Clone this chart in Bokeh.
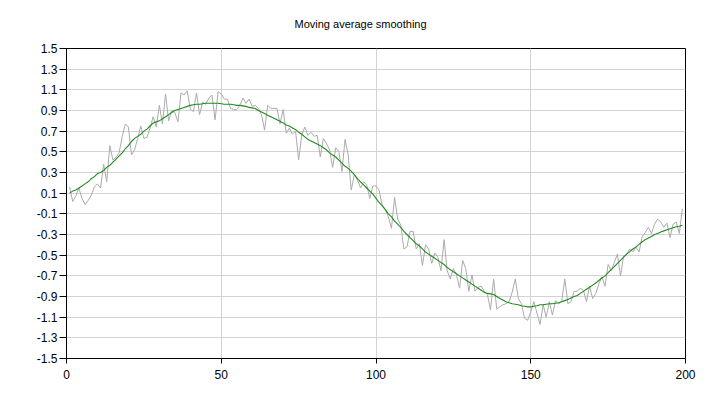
from bokeh.plotting import figure
from bokeh.models import Range1d, FixedTicker, CustomJSTickFormatter, ColumnDataSource
from bokeh.embed import file_html
from bokeh.resources import INLINE

title_text = "Moving average smoothing"

x_values = list(range(1, 200))

raw = [
    0.16, 0.02, 0.07, 0.15, 0.05, -0.01, 0.03, 0.08, 0.16, 0.19,
    0.15, 0.38, 0.21, 0.56, 0.42, 0.45, 0.49, 0.65, 0.77, 0.74,
    0.47, 0.52, 0.63, 0.75, 0.63, 0.64, 0.73, 0.84, 0.74, 0.95,
    0.77, 1.06, 0.80, 0.90, 0.88, 0.79, 1.07, 1.05, 1.09, 0.91,
    0.89, 1.07, 0.86, 0.98, 0.96, 1.02, 1.05, 0.81, 1.08, 1.06,
    1.01, 1.01, 0.92, 0.91, 0.91, 0.95, 1.02, 0.97, 1.01, 0.94,
    0.95, 0.92, 0.86, 0.71, 0.95, 0.92, 0.92, 0.92, 0.77, 0.91,
    0.68, 0.73, 0.67, 0.70, 0.42, 0.66, 0.74, 0.66, 0.69, 0.65,
    0.66, 0.45, 0.63, 0.58, 0.52, 0.35, 0.54, 0.50, 0.31, 0.62,
    0.47, 0.13, 0.28, 0.23, 0.15, 0.21, 0.18, 0.05, 0.17, 0.17,
    0.13, -0.02, -0.06, -0.13, -0.24, 0.06, -0.15, -0.21, -0.44, -0.42,
    -0.27, -0.27, -0.44, -0.39, -0.60, -0.40, -0.44, -0.58, -0.48, -0.52,
    -0.65, -0.35, -0.65, -0.73, -0.63, -0.69, -0.82, -0.55, -0.63, -0.85,
    -0.69, -0.85, -0.81, -0.80, -0.85, -0.88, -1.03, -0.73, -1.02, -1.00,
    -0.98, -0.97, -0.95, -0.86, -0.73, -0.92, -0.97, -1.11, -1.13, -1.05,
    -0.95, -1.06, -1.17, -0.98, -1.10, -0.95, -1.08, -0.94, -0.97, -0.95,
    -0.73, -0.97, -0.95, -0.85, -0.85, -0.82, -0.84, -0.95, -0.80, -0.92,
    -0.87, -0.78, -0.71, -0.80, -0.59, -0.65, -0.57, -0.49, -0.70, -0.51,
    -0.49, -0.44, -0.47, -0.42, -0.47, -0.32, -0.28, -0.23, -0.29, -0.20,
    -0.15, -0.18, -0.23, -0.19, -0.33, -0.20, -0.18, -0.29, -0.05,
]

smooth = [
    0.10, 0.12, 0.13, 0.15, 0.17, 0.19, 0.21, 0.24, 0.26, 0.29,
    0.30, 0.32, 0.35, 0.37, 0.40, 0.43, 0.46, 0.49, 0.53, 0.56,
    0.60, 0.63, 0.65, 0.67, 0.70, 0.72, 0.75, 0.78, 0.79, 0.80,
    0.82, 0.84, 0.86, 0.88, 0.90, 0.91, 0.92, 0.93, 0.94, 0.95,
    0.955, 0.96, 0.96, 0.965, 0.97, 0.97, 0.97, 0.97, 0.97, 0.965,
    0.96, 0.96, 0.96, 0.955, 0.95, 0.95, 0.945, 0.94, 0.93, 0.925,
    0.92, 0.90, 0.885, 0.87, 0.855, 0.84, 0.825, 0.81, 0.795, 0.78,
    0.76, 0.75, 0.73, 0.715, 0.69, 0.67, 0.645, 0.62, 0.605, 0.59,
    0.575, 0.56, 0.54, 0.52, 0.49, 0.47, 0.45, 0.42, 0.39, 0.36,
    0.34, 0.31, 0.28, 0.24, 0.21, 0.18, 0.15, 0.12, 0.09, 0.05,
    0.01, -0.02, -0.06, -0.10, -0.13, -0.17, -0.20, -0.23, -0.27, -0.30,
    -0.33, -0.36, -0.39, -0.41, -0.44, -0.47, -0.49, -0.51, -0.53, -0.55,
    -0.57, -0.59, -0.62, -0.64, -0.66, -0.68, -0.70, -0.72, -0.74, -0.76,
    -0.78, -0.80, -0.82, -0.84, -0.86, -0.87, -0.875, -0.88, -0.90, -0.92,
    -0.935, -0.95, -0.96, -0.97, -0.975, -0.98, -0.99, -0.995, -1.00, -1.00,
    -0.995, -0.99, -0.98, -0.98, -0.975, -0.97, -0.97, -0.965, -0.96, -0.95,
    -0.94, -0.93, -0.915, -0.90, -0.89, -0.87, -0.85, -0.83, -0.81, -0.79,
    -0.77, -0.745, -0.72, -0.70, -0.67, -0.64, -0.61, -0.58, -0.55, -0.52,
    -0.49, -0.465, -0.44, -0.42, -0.395, -0.37, -0.35, -0.335, -0.32, -0.30,
    -0.29, -0.275, -0.265, -0.255, -0.245, -0.235, -0.225, -0.22, -0.21,
]

x_ticks = [0, 50, 100, 150, 200]
y_ticks = [-1.5, -1.3, -1.1, -0.9, -0.7, -0.5, -0.3, -0.1, 0.1, 0.3, 0.5, 0.7, 0.9, 1.1, 1.3, 1.5]

src = ColumnDataSource(dict(x=x_values, raw=raw, smooth=smooth))

p = figure(width=704, height=389, output_backend="svg", toolbar_location=None,
           x_range=Range1d(0, 200), y_range=Range1d(-1.5, 1.5),
           min_border_left=66, min_border_right=19, min_border_top=47, min_border_bottom=31)

p.title.text = title_text
p.title.align = "left"
p.title.vertical_align = "top"
p.title.text_font = "Liberation Sans"
p.title.text_font_size = "11px"
p.title.text_font_style = "normal"
p.title.text_color = "#000000"
p.title.offset = 228
p.title.standoff = 34

p.line("x", "raw", source=src, line_color="#ababab", line_width=1)
p.line("x", "smooth", source=src, line_color="#1e8c1e", line_width=1.1)

p.xaxis.ticker = FixedTicker(ticks=x_ticks)
p.yaxis.ticker = FixedTicker(ticks=y_ticks)
p.yaxis.formatter = CustomJSTickFormatter(code="return tick.toFixed(1);")

for ax in (p.xaxis, p.yaxis):
    ax.axis_line_color = "#000000"
    ax.major_tick_line_color = "#000000"
    ax.minor_tick_line_color = None
    ax.major_tick_in = 0
    ax.major_label_text_font = "Liberation Sans"
    ax.major_label_text_font_size = "12px"
    ax.major_label_text_color = "#000000"

p.yaxis.major_tick_out = 7
p.xaxis.major_tick_out = 5
p.yaxis.major_label_standoff = 2
p.xaxis.major_label_standoff = 6

p.xgrid.grid_line_color = "#d3d3d3"
p.ygrid.grid_line_color = "#d3d3d3"
p.outline_line_color = "#000000"
p.outline_line_alpha = 1.0
p.background_fill_color = "#ffffff"
p.border_fill_color = "#ffffff"

open("out.html", "w").write(file_html(p, INLINE))
